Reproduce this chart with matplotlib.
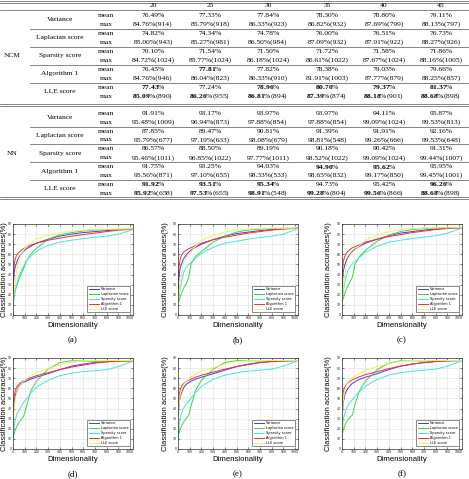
import matplotlib
matplotlib.use('Agg')
import matplotlib.pyplot as plt

plt.rcParams['mathtext.fontset'] = 'custom'
plt.rcParams['mathtext.rm'] = 'Liberation Serif'
plt.rcParams['mathtext.bf'] = 'Liberation Serif:bold'

W, H = 469, 479

# ---------------- table data ----------------
columns = ['20', '25', '30', '35', '40', '45']
groups = ['NCM', 'NN']
methods = ['Variance', 'Laplacian score', 'Sparsity score', 'Algorithm 1', 'LLE score']

ncm_mean = [[76.49, 77.33, 77.84, 78.30, 78.80, 79.11],
            [74.82, 74.34, 74.78, 76.00, 76.51, 76.73],
            [70.10, 71.54, 71.50, 71.72, 71.58, 71.86],
            [76.45, 77.81, 77.82, 78.38, 79.03, 79.66],
            [77.43, 77.24, 78.96, 80.70, 79.37, 81.37]]
ncm_max = [[84.76, 85.79, 86.33, 86.82, 87.69, 88.13],
           [85.00, 85.27, 86.50, 87.09, 87.91, 88.27],
           [84.72, 85.77, 86.18, 86.61, 87.67, 88.16],
           [84.76, 86.04, 86.33, 81.91, 87.77, 88.25],
           [85.09, 86.26, 86.81, 87.39, 88.18, 88.68]]
ncm_dim = [[914, 918, 923, 932, 799, 797],
           [943, 981, 984, 932, 922, 926],
           [1024, 1024, 1024, 1022, 1024, 1005],
           [946, 823, 910, 1003, 879, 857],
           [890, 955, 894, 874, 901, 898]]
nn_mean = [[91.91, 93.17, 93.97, 93.97, 94.11, 95.87],
           [87.85, 89.47, 90.81, 91.39, 91.91, 92.16],
           [86.57, 88.50, 89.19, 90.18, 90.42, 91.31],
           [91.75, 93.25, 94.03, 94.90, 95.62, 95.95],
           [91.92, 93.51, 95.34, 94.73, 95.42, 96.26]]
nn_max = [[95.48, 96.94, 97.88, 97.88, 99.09, 99.53],
          [95.79, 97.19, 98.08, 98.81, 99.26, 99.53],
          [95.46, 96.85, 97.77, 98.52, 99.09, 99.44],
          [95.56, 97.10, 98.33, 98.65, 99.17, 99.45],
          [95.92, 97.53, 98.91, 99.28, 99.56, 88.68]]
nn_dim = [[1009, 873, 854, 854, 1024, 813],
          [677, 633, 679, 548, 666, 648],
          [1011, 1022, 1011, 1022, 1024, 1007],
          [871, 655, 533, 832, 850, 1001],
          [658, 655, 548, 804, 866, 898]]
ncm_mean_bold = [(4, 0), (3, 1), (4, 2), (4, 3), (4, 4), (4, 5)]
ncm_max_bold = [(4, 0), (4, 1), (4, 2), (4, 3), (4, 4), (4, 5)]
nn_mean_bold = [(4, 0), (4, 1), (4, 2), (3, 3), (3, 4), (4, 5)]
nn_max_bold = [(4, 0), (4, 1), (4, 2), (4, 3), (4, 4), (4, 5)]

# ---------------- chart data ----------------
dims = [1, 5, 10, 20, 35, 50, 75, 90, 110, 150, 200, 300, 400, 500, 600, 700, 800, 900, 1024]
series_names = ['Variance', 'Laplacian score', 'Sparsity score', 'Algorithm 1', 'LLE score']
series_colors = ['#3a3aff', '#3fd43f', '#3de6e6', '#ff2a2a', '#f2f25a']
panel_labels = ['(a)', '(b)', '(c)', '(d)', '(e)', '(f)']
x_ticks = [0, 100, 200, 300, 400, 500, 600, 700, 800, 900, 1000]
y_ticks = [0, 10, 20, 30, 40, 50, 60, 70, 80, 90]

a_var = [15, 33, 42, 48, 53, 57, 61, 63, 65, 68, 71, 75, 78, 80, 81.5, 82.5, 83.5, 84.3, 84.7]
a_lap = [12, 16, 20, 25, 30, 35, 42, 46, 52, 60, 66, 75, 79.5, 81.5, 83, 84, 84.5, 84.8, 85]
a_spa = [10, 13, 17, 24, 32, 38, 45, 48, 53, 58, 63, 69, 72, 74, 75.5, 77, 78, 80, 84.5]
a_alg = [18, 42, 50, 56, 60, 62, 64.5, 65.5, 67, 69, 71, 74, 76, 78, 79.5, 81, 82.5, 84, 84.8]
a_lle = [12, 18, 24, 33, 46, 55, 61, 64, 67, 71, 75, 79, 81.5, 83, 84, 84.5, 84.8, 85, 85]

b_var = [15, 32, 40, 47, 52, 56, 60, 62, 64, 67, 70, 74.5, 78, 80.5, 82, 83.5, 84.5, 85.3, 85.8]
b_lap = [12, 13, 14, 18, 23, 27, 32, 37, 50, 58, 63, 72, 78, 82, 84, 85, 85.5, 85.8, 85.8]
b_spa = [12, 16, 20, 26, 36, 43, 48, 50, 52, 56, 61, 67, 71, 73, 75, 76.5, 78, 80, 85.5]
b_alg = [20, 44, 50, 56, 60, 62.5, 64.5, 65.5, 66.5, 68.5, 71, 74.5, 77, 79, 81, 82.5, 84, 85, 85.8]
b_lle = [12, 18, 25, 32, 45, 53, 58, 60, 62, 68, 74, 79, 82, 84, 85, 85.5, 85.8, 85.8, 85.8]

c_var = [15, 34, 42, 48, 53, 57, 61, 63, 65, 68, 71, 75, 78.5, 81, 82.5, 84, 85, 86, 86.3]
c_lap = [12, 14, 16, 20, 25, 29, 34, 38, 50, 58, 64, 73, 79, 82.5, 84.5, 85.5, 86, 86.3, 86.3]
c_spa = [12, 17, 22, 30, 38, 44, 49, 51, 53, 57, 62, 68, 72, 74, 75.5, 77, 78.5, 81, 86]
c_alg = [22, 46, 52, 57, 61, 63, 65.5, 66.5, 67.5, 69.5, 72, 75, 77.5, 79.5, 81.5, 83, 84.5, 85.5, 86.3]
c_lle = [12, 20, 28, 36, 48, 55, 60, 62, 64, 69, 74, 79, 82.5, 84.5, 85.5, 86, 86.3, 86.3, 86.3]

d_var = [15, 38, 46, 53, 58, 62, 65, 66, 67, 69, 71, 74.5, 78.5, 82, 84, 85.5, 86.5, 87, 87.3]
d_lap = [10, 13, 15, 19, 23, 26, 30, 32, 40, 57, 67, 79, 85.5, 87.3, 87, 86.5, 86.8, 87, 87.3]
d_spa = [10, 16, 22, 29, 35, 38, 43, 46, 49, 55, 61, 68, 72.5, 75, 76.5, 77.5, 78.5, 81.5, 87]
d_alg = [20, 46, 52, 58, 62, 64, 66.5, 67.5, 68.5, 70.5, 72.5, 75.5, 78.5, 81, 83, 85, 86, 87, 87.3]
d_lle = [15, 30, 40, 50, 57, 61, 65, 67, 69, 72.5, 75.5, 79.5, 83, 86, 87, 87.3, 87.5, 87.5, 87.5]

e_var = [15, 36, 45, 52, 57, 61, 64.5, 65.5, 67, 69, 71, 74.5, 78, 81.5, 84, 85.5, 86.5, 87, 87.5]
e_lap = [10, 14, 16, 20, 24, 27, 31, 33, 42, 58, 68, 79, 85.5, 87.5, 87.3, 87, 87, 87.3, 87.5]
e_spa = [10, 17, 24, 31, 37, 41, 45, 47, 50, 56, 62, 69, 73, 75.5, 77, 78, 79, 82, 87.3]
e_alg = [22, 48, 54, 59, 63, 65, 67, 68, 69, 71, 73, 76, 79, 81.5, 83.5, 85.5, 86.5, 87.2, 87.5]
e_lle = [18, 34, 45, 54, 60, 64, 67.5, 69, 71, 74, 77, 80.5, 84, 86.5, 87.3, 87.5, 87.5, 87.5, 87.5]

f_var = [15, 37, 45, 52, 57, 60, 63.5, 65, 66.5, 69, 71, 74.5, 78.5, 82, 84, 85.5, 86.5, 87.2, 87.5]
f_lap = [12, 16, 18, 22, 26, 29, 32, 34, 44, 58, 67, 78.5, 85, 87.3, 87.3, 87, 87, 87.3, 87.5]
f_spa = [12, 20, 28, 34, 39, 43, 47, 49, 52, 57, 62, 69, 73, 75.5, 77, 78, 79, 82, 87.3]
f_alg = [24, 50, 56, 60, 63.5, 65.5, 67.5, 68.5, 69.5, 71.5, 73.5, 76.5, 79.5, 82, 84, 85.5, 86.5, 87.2, 87.5]
f_lle = [18, 36, 47, 56, 62, 66, 69, 70.5, 72, 75, 78, 81.5, 84.5, 86.8, 87.5, 87.5, 87.5, 87.5, 87.5]

panels = [[a_var, a_lap, a_spa, a_alg, a_lle],
          [b_var, b_lap, b_spa, b_alg, b_lle],
          [c_var, c_lap, c_spa, c_alg, c_lle],
          [d_var, d_lap, d_spa, d_alg, d_lle],
          [e_var, e_lap, e_spa, e_alg, e_lle],
          [f_var, f_lap, f_spa, f_alg, f_lle]]

# ---------------- figure ----------------
fig = plt.figure(figsize=(W / 100, H / 100), dpi=100)

tab = fig.add_axes([0, 0, 1, 1])
tab.set_xlim(0, W)
tab.set_ylim(H, 0)
tab.axis('off')

serif = 'Liberation Serif'
fs = 5.4
col_x = [153, 210, 268, 327, 384, 441]
tab.plot([0, W], [1.0, 1.0], color='#555555', lw=0.5)
tab.plot([0, W], [2.8, 2.8], color='#555555', lw=0.5)
tab.plot([0, W], [10.0, 10.0], color='#555555', lw=0.5)
for cx, c in zip(col_x, columns):
    tab.text(cx, 5.6, c, ha='center', va='center', fontsize=fs, family=serif)


def fmt(v, d, bold):
    num = f"{v:.2f}"
    tail = "%" if d is None else f"%({d})"
    if bold:
        return r"$\mathbf{" + num + "}$" + tail
    return num + tail


def draw_block(y0, pitch, gname, means, maxs, dims_, mb, xb):
    for mi, m in enumerate(methods):
        ym = y0 + (2 * mi) * pitch
        yx = ym + pitch
        tab.text(60, (ym + yx) / 2, m, ha='center', va='center', fontsize=fs, family=serif)
        tab.text(106, ym, 'mean', ha='center', va='center', fontsize=fs, family=serif)
        tab.text(106, yx, 'max', ha='center', va='center', fontsize=fs, family=serif)
        for ci in range(len(columns)):
            tab.text(col_x[ci], ym, fmt(means[mi][ci], None, (mi, ci) in mb),
                     ha='center', va='center', fontsize=fs, family=serif)
            tab.text(col_x[ci], yx, fmt(maxs[mi][ci], dims_[mi][ci], (mi, ci) in xb),
                     ha='center', va='center', fontsize=fs, family=serif)
        if mi < len(methods) - 1:
            yl = yx + pitch / 2
            tab.plot([30, W], [yl, yl], color='#555555', lw=0.5)
    tab.text(12, y0 + pitch * 4.5, gname, ha='center', va='center', fontsize=fs, family=serif)


draw_block(15.0, 9.05, groups[0], ncm_mean, ncm_max, ncm_dim, ncm_mean_bold, ncm_max_bold)
tab.plot([0, W], [104.3, 104.3], color='#555555', lw=0.5)
tab.plot([0, W], [106.4, 106.4], color='#555555', lw=0.5)
draw_block(113.3, 8.88, groups[1], nn_mean, nn_max, nn_dim, nn_mean_bold, nn_max_bold)
tab.plot([0, W], [197.3, 197.3], color='#555555', lw=0.5)
tab.plot([0, W], [199.4, 199.4], color='#555555', lw=0.5)

# ---------------- charts ----------------
lefts = [13, 178, 342]
tops = [224, 358]
label_offsets = [-8.5, -13, -13]
aw, ah = 120, 91
sans = 'Liberation Sans'
for pi, data in enumerate(panels):
    r, c = divmod(pi, 3)
    l, t = lefts[c], tops[r]
    ax = fig.add_axes([l / W, 1 - (t + ah) / H, aw / W, ah / H])
    for s, name, col in zip(data, series_names, series_colors):
        ax.plot(dims, s, color=col, lw=0.7, label=name)
    ax.set_xlim(0, 1024)
    ax.set_ylim(0, 90)
    ax.set_xticks(x_ticks)
    ax.set_yticks(y_ticks)
    ax.grid(True, color='#e0e0e0', lw=0.4)
    ax.set_axisbelow(True)
    ax.tick_params(direction='in', length=1.5, width=0.4, labelsize=2.5, pad=1.0,
                   top=True, right=True, colors='#222222')
    for lab in ax.get_xticklabels() + ax.get_yticklabels():
        lab.set_family(sans)
    for sp in ax.spines.values():
        sp.set_linewidth(0.5)
        sp.set_color('#333333')
    ax.set_xlabel('Dimensionality', fontsize=5.6, family=sans, labelpad=1.5)
    ax.set_ylabel('Classification accuracies(%)', fontsize=5.4, family=sans)
    ax.yaxis.label.set_verticalalignment('center')
    ax.yaxis.set_label_coords(label_offsets[c] / aw, 0.5)
    leg = ax.legend(loc='lower right', fontsize=2.5, handlelength=3.0, borderpad=0.4,
                    labelspacing=0.25, handletextpad=0.6, fancybox=False,
                    edgecolor='#333333', framealpha=1, borderaxespad=0.8)
    leg.get_frame().set_linewidth(0.4)
    fig.text((l + aw / 2) / W, 1 - (t + ah + 25) / H, panel_labels[pi],
             ha='center', va='center', fontsize=6.5, family=serif)

fig.savefig('out.png', dpi=100)
